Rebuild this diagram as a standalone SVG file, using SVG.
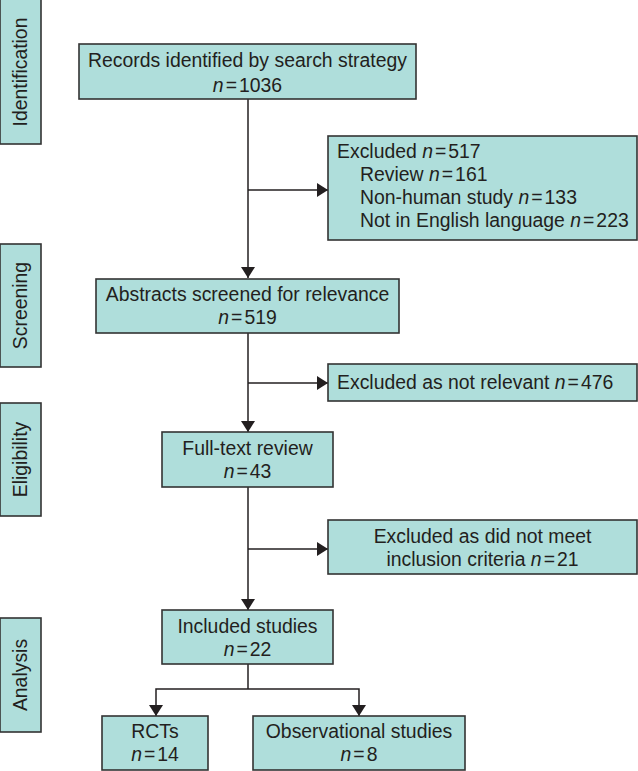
<svg xmlns="http://www.w3.org/2000/svg" width="638" height="771" viewBox="0 0 638 771">
<defs>
<marker id="arr" viewBox="0 0 11 14" refX="11" refY="7" markerWidth="11" markerHeight="14" markerUnits="userSpaceOnUse" orient="auto">
<path d="M0,0 L11,7 L0,14 z" fill="#231f20"/>
</marker>
<style>
.box{fill:#afdedb;stroke:#333333;stroke-width:1.6}
.t{font-family:"Liberation Sans",Arial,sans-serif;font-size:19.4px;fill:#231f20}
.c{text-anchor:middle}
.i{font-style:italic}
.ln{fill:none;stroke:#231f20;stroke-width:1.5}
</style>
</defs>
<rect width="638" height="771" fill="#ffffff"/>

<g id="side-identification">
<rect class="box" x="0" y="-1" width="41" height="145"/>
<text class="t c" transform="translate(27,72) rotate(-90)">Identification</text>
</g>
<g id="side-screening">
<rect class="box" x="0" y="244" width="41" height="123"/>
<text class="t c" transform="translate(27,305.5) rotate(-90)">Screening</text>
</g>
<g id="side-eligibility">
<rect class="box" x="0" y="403" width="41" height="113"/>
<text class="t c" transform="translate(27,459.5) rotate(-90)">Eligibility</text>
</g>
<g id="side-analysis">
<rect class="box" x="0" y="618" width="41" height="114"/>
<text class="t c" transform="translate(27,675) rotate(-90)">Analysis</text>
</g>

<g id="connectors">
<line class="ln" x1="248" y1="99" x2="248" y2="278" marker-end="url(#arr)"/>
<line class="ln" x1="248" y1="190" x2="328" y2="190" marker-end="url(#arr)"/>
<line class="ln" x1="248" y1="333" x2="248" y2="432" marker-end="url(#arr)"/>
<line class="ln" x1="248" y1="383" x2="328" y2="383" marker-end="url(#arr)"/>
<line class="ln" x1="248" y1="487" x2="248" y2="610" marker-end="url(#arr)"/>
<line class="ln" x1="248" y1="549" x2="328" y2="549" marker-end="url(#arr)"/>
<line class="ln" x1="248" y1="664" x2="248" y2="689"/>
<polyline class="ln" points="248,689 156,689 156,716" marker-end="url(#arr)"/>
<polyline class="ln" points="248,689 359,689 359,716" marker-end="url(#arr)"/>
</g>

<g id="records">
<rect class="box" x="79" y="44" width="337" height="55"/>
<text class="t c" x="247.5" y="67">Records identified by search strategy</text>
<text class="t c" x="247.5" y="92"><tspan class="i">n</tspan><tspan dx="2">=</tspan><tspan dx="2">1036</tspan></text>
</g>

<g id="excluded1">
<rect class="box" x="328" y="136" width="309" height="104"/>
<text class="t" x="337" y="158">Excluded <tspan class="i">n</tspan><tspan dx="2">=</tspan><tspan dx="2">517</tspan></text>
<text class="t" x="360" y="181">Review <tspan class="i">n</tspan><tspan dx="2">=</tspan><tspan dx="2">161</tspan></text>
<text class="t" x="360" y="204">Non-human study <tspan class="i">n</tspan><tspan dx="2">=</tspan><tspan dx="2">133</tspan></text>
<text class="t" x="360" y="227">Not in English language <tspan class="i">n</tspan><tspan dx="2">=</tspan><tspan dx="2">223</tspan></text>
</g>

<g id="abstracts">
<rect class="box" x="96" y="279" width="303" height="54"/>
<text class="t c" x="247.5" y="301">Abstracts screened for relevance</text>
<text class="t c" x="247.5" y="324"><tspan class="i">n</tspan><tspan dx="2">=</tspan><tspan dx="2">519</tspan></text>
</g>

<g id="excluded2">
<rect class="box" x="328" y="364" width="309" height="37"/>
<text class="t" x="337" y="389">Excluded as not relevant <tspan class="i">n</tspan><tspan dx="2">=</tspan><tspan dx="2">476</tspan></text>
</g>

<g id="fulltext">
<rect class="box" x="162" y="432" width="171" height="55"/>
<text class="t c" x="247.5" y="455">Full-text review</text>
<text class="t c" x="247.5" y="478"><tspan class="i">n</tspan><tspan dx="2">=</tspan><tspan dx="2">43</tspan></text>
</g>

<g id="excluded3">
<rect class="box" x="328" y="520" width="309" height="54"/>
<text class="t c" x="482.5" y="543">Excluded as did not meet</text>
<text class="t c" x="482.5" y="566">inclusion criteria <tspan class="i">n</tspan><tspan dx="2">=</tspan><tspan dx="2">21</tspan></text>
</g>

<g id="included">
<rect class="box" x="162" y="610" width="171" height="54"/>
<text class="t c" x="247.5" y="633">Included studies</text>
<text class="t c" x="247.5" y="656"><tspan class="i">n</tspan><tspan dx="2">=</tspan><tspan dx="2">22</tspan></text>
</g>

<g id="rcts">
<rect class="box" x="102" y="716" width="106" height="54"/>
<text class="t c" x="155" y="738">RCTs</text>
<text class="t c" x="155" y="761"><tspan class="i">n</tspan><tspan dx="2">=</tspan><tspan dx="2">14</tspan></text>
</g>

<g id="observational">
<rect class="box" x="253" y="716" width="212" height="54"/>
<text class="t c" x="359" y="738">Observational studies</text>
<text class="t c" x="359" y="761"><tspan class="i">n</tspan><tspan dx="2">=</tspan><tspan dx="2">8</tspan></text>
</g>
</svg>
